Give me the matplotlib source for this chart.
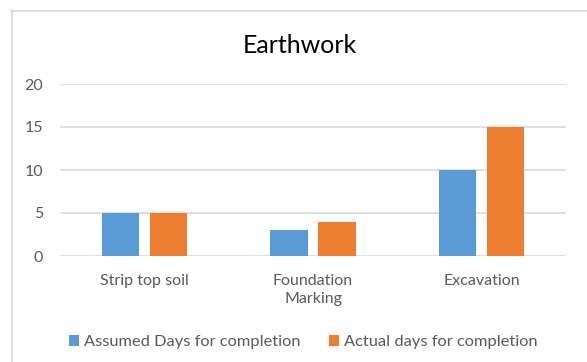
import matplotlib
matplotlib.use("Agg")
import matplotlib.pyplot as plt
from matplotlib.lines import Line2D
from matplotlib.patches import Patch
import numpy as np

plt.rcParams['font.family'] = ['Lato', 'DejaVu Sans']

categories = ["Strip top soil", "Foundation\nMarking", "Excavation"]
assumed_days = [5, 3, 10]
actual_days = [5, 4, 15]
series_names = ["Assumed Days for completion", "Actual days for completion"]
yticks = [0, 5, 10, 15, 20]

blue = "#5b9bd5"
orange = "#ed7d31"
grid_col = "#d9d9d9"
text_col = "#595959"

W, H = 587, 362
fig = plt.figure(figsize=(W / 100, H / 100), dpi=100)

# chart frame (top and left edges)
fig.add_artist(Line2D([11 / W, 1], [1 - 10.5 / H, 1 - 10.5 / H], color=grid_col, lw=1.2))
fig.add_artist(Line2D([12 / W, 12 / W], [0, 1 - 10 / H], color=grid_col, lw=1.2))

ax = fig.add_axes([60 / W, 1 - 256 / H, (566 - 60) / W, (256 - 84) / H])

x = np.arange(len(categories))
bw = 0.22
gap = 0.065
off = (bw + gap) / 2
ax.bar(x - off, assumed_days, bw, color=blue, zorder=3)
ax.bar(x + off, actual_days, bw, color=orange, zorder=3)

ax.set_xlim(-0.5, len(categories) - 0.5)
ax.set_ylim(0, 20)
ax.set_yticks(yticks)
ax.yaxis.grid(True, color=grid_col, lw=1.2, zorder=0)
ax.set_axisbelow(True)
for s in ax.spines.values():
    s.set_visible(False)
ax.tick_params(axis='both', length=0, labelsize=11.5, colors=text_col)
ax.tick_params(axis='y', pad=12)
ax.tick_params(axis='x', pad=13)
ax.set_xticks(x)
ax.set_xticklabels(categories, linespacing=1.35)
for lab in ax.get_yticklabels():
    lab.set_horizontalalignment('right')

fig.text(300 / W, 1 - 53 / H, "Earthwork", ha='center', va='baseline',
         fontsize=18, color="#000000")

handles = [Patch(facecolor=blue, edgecolor='none'), Patch(facecolor=orange, edgecolor='none')]
fig.legend(handles, series_names, loc='center', bbox_to_anchor=(303 / W, 1 - 342 / H),
           ncol=2, frameon=False, fontsize=11.75, labelcolor=text_col,
           handlelength=0.62, handleheight=0.62, handletextpad=0.3, columnspacing=1.75)

fig.savefig("out.png", dpi=100)
